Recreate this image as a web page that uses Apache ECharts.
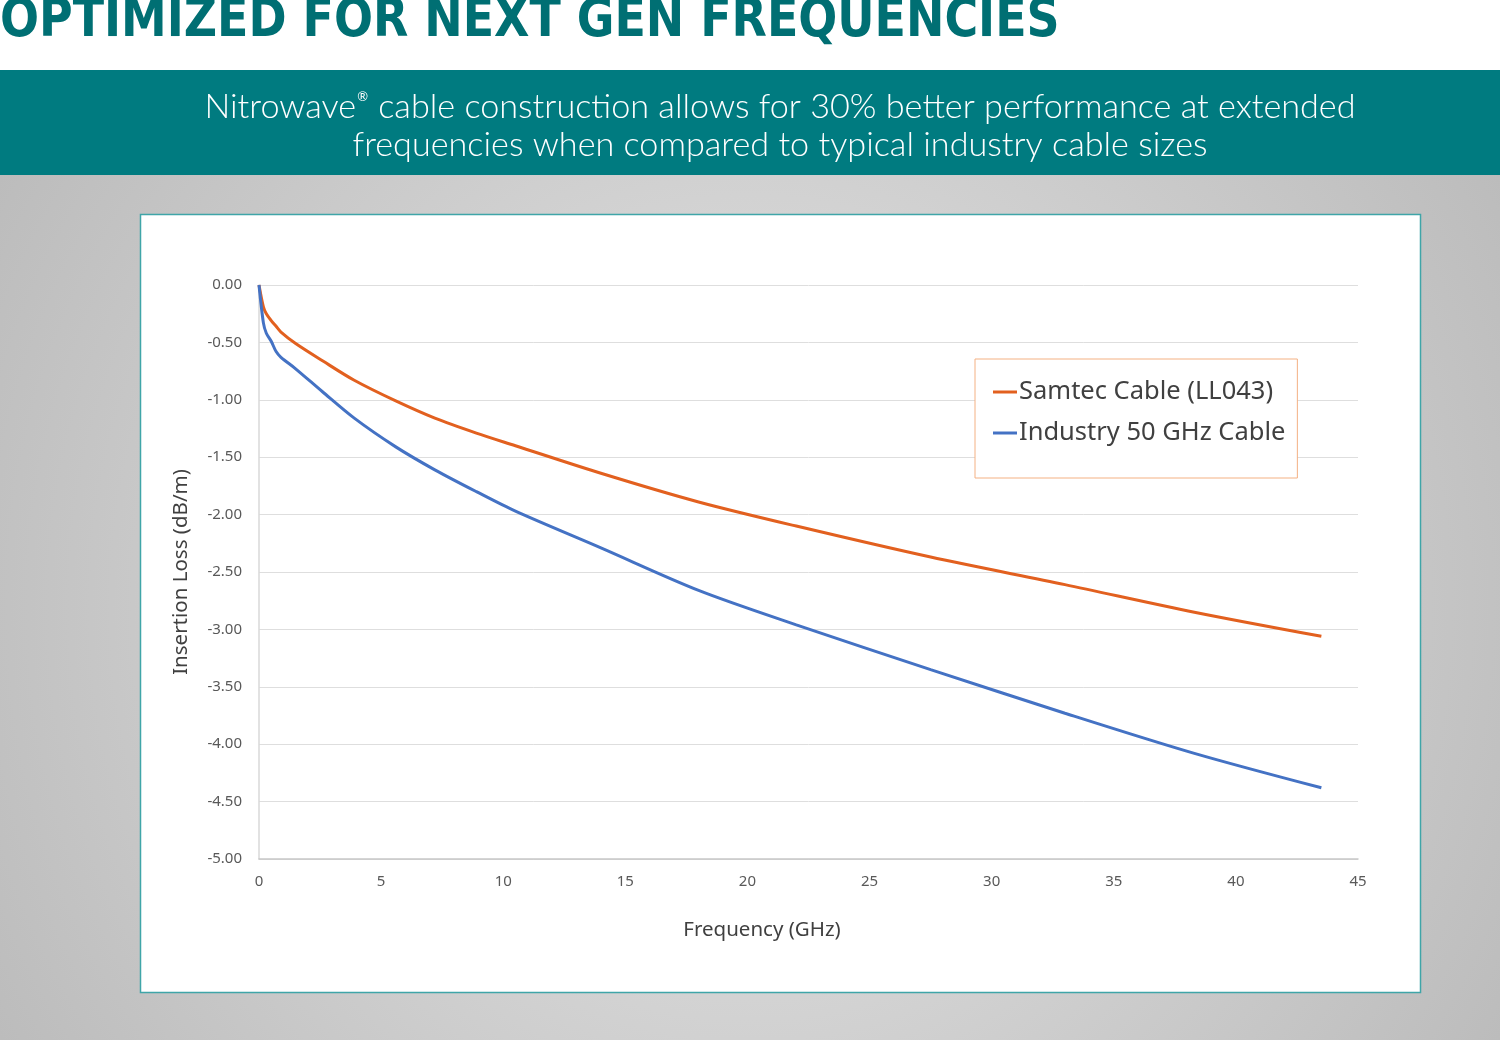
<!DOCTYPE html>
<html>
<head>
<meta charset="utf-8">
<script src="https://cdn.jsdelivr.net/npm/echarts@6/dist/echarts.min.js"></script>
<style>
  html, body { margin: 0; padding: 0; background: #fff; }
  #chart { width: 1500px; height: 1040px; }
</style>
</head>
<body>
<div id="chart"></div>
<script>
// frequency points (GHz)
const freq = [0, 0.18, 0.3, 0.5, 0.7, 0.9, 1.5, 2.6, 3.9, 5.6, 7.2, 8.9, 10.5, 14, 18, 22, 27.5, 33, 38.3, 43.5];
// insertion loss (dB/m)
const samtec = [0, -0.19, -0.25, -0.31, -0.36, -0.41, -0.51, -0.66, -0.83, -1.01, -1.16, -1.29, -1.40, -1.64, -1.89, -2.10, -2.37, -2.61, -2.85, -3.06];
const industry = [0, -0.33, -0.42, -0.49, -0.58, -0.63, -0.73, -0.93, -1.16, -1.41, -1.61, -1.80, -1.97, -2.29, -2.66, -2.96, -3.35, -3.73, -4.08, -4.38];
const seriesNames = ['Samtec Cable (LL043)', 'Industry 50 GHz Cable'];

const pageTitle = 'OPTIMIZED FOR NEXT GEN FREQUENCIES';
const bannerLines = [
  'Nitrowave{r|\u00AE} cable construction allows for 30% better performance at extended',
  'frequencies when compared to typical industry cable sizes'
];

const chart = echarts.init(document.getElementById('chart'));
const colors = ['#e2601f', '#4472c4'];
const pair = arr => arr.map((v, i) => [freq[i], v]);
const bannerFont = '300 34.2px Lato, "Noto Sans", sans-serif';

const option = {
  animation: false,
  color: colors,
  graphic: [
    // gray backdrop below the banner
    {
      type: 'rect', z: -20,
      shape: {x: 0, y: 175, width: 1500, height: 865},
      style: {
        fill: new echarts.graphic.RadialGradient(0.5, 0.5, 1.0, [
          {offset: 0, color: '#e6e6e6'},
          {offset: 1, color: '#bcbcbc'}
        ])
      }
    },
    {
      type: 'rect', z: -20,
      shape: {x: 0, y: 70, width: 1500, height: 105},
      style: {fill: '#007b80'}
    },
    {
      type: 'text', z: -10, x: 0, y: -5, scaleX: 0.945,
      style: {
        text: pageTitle, fill: '#006f73',
        font: 'bold 54px "Liberation Sans Narrow", "DejaVu Sans Condensed", sans-serif',
        textVerticalAlign: 'top'
      }
    },
    {
      type: 'text', z: -10, x: 780, y: 107,
      style: {
        text: bannerLines[0], fill: '#ffffff',
        font: bannerFont,
        textAlign: 'center', textVerticalAlign: 'middle',
        rich: {
          r: {fontSize: 13, fontFamily: 'Lato', verticalAlign: 'top', fill: '#ffffff', padding: [0, 1, 0, 1]}
        }
      }
    },
    {
      type: 'text', z: -10, x: 780, y: 145,
      style: {
        text: bannerLines[1], fill: '#ffffff',
        font: bannerFont,
        textAlign: 'center', textVerticalAlign: 'middle'
      }
    },
    // white chart panel
    {
      type: 'rect', z: -15,
      shape: {x: 140.5, y: 214.5, width: 1280, height: 778},
      style: {fill: '#ffffff', stroke: '#3fa5a8', lineWidth: 1.5}
    },
    {
      type: 'text', x: 762, y: 930,
      style: {
        text: 'Frequency (GHz)', fill: '#404040',
        font: '20.5px "Noto Sans", sans-serif',
        textAlign: 'center', textVerticalAlign: 'middle'
      }
    }
  ],
  legend: {
    data: seriesNames,
    orient: 'vertical',
    left: 975,
    top: 359,
    backgroundColor: '#ffffff',
    borderColor: '#f4b183',
    borderWidth: 1,
    padding: [20, 12, 32, 18],
    itemGap: 15,
    itemWidth: 24,
    itemHeight: 3,
    icon: 'rect',
    textStyle: {
      fontFamily: 'Noto Sans',
      fontSize: 25.5,
      color: '#404040',
      padding: [0, 0, 0, -3]
    }
  },
  grid: {left: 259, right: 142, top: 285, bottom: 181},
  xAxis: {
    type: 'value',
    min: 0,
    max: 45,
    interval: 5,
    axisLine: {onZero: false, lineStyle: {color: '#c8c8c8', width: 1.5}},
    axisTick: {show: false},
    splitLine: {show: false},
    axisLabel: {color: '#595959', fontSize: 15, fontFamily: 'Noto Sans', margin: 15}
  },
  yAxis: {
    type: 'value',
    min: -5,
    max: 0,
    interval: 0.5,
    name: 'Insertion Loss (dB/m)',
    nameLocation: 'middle',
    nameGap: 67,
    nameTextStyle: {color: '#404040', fontSize: 20.5, fontFamily: 'Noto Sans'},
    axisLine: {show: true, lineStyle: {color: '#d9d9d9', width: 1.5}},
    axisTick: {show: false},
    splitLine: {lineStyle: {color: '#dedede', width: 1}},
    axisLabel: {
      color: '#595959', fontSize: 15, fontFamily: 'Noto Sans', margin: 17,
      formatter: v => v.toFixed(2)
    }
  },
  series: [
    {
      name: seriesNames[0],
      type: 'line',
      data: pair(samtec),
      showSymbol: false,
      smooth: 0.3,
      lineStyle: {width: 3}
    },
    {
      name: seriesNames[1],
      type: 'line',
      data: pair(industry),
      showSymbol: false,
      smooth: 0.3,
      lineStyle: {width: 3}
    }
  ]
};

chart.setOption(option);
</script>
</body>
</html>
